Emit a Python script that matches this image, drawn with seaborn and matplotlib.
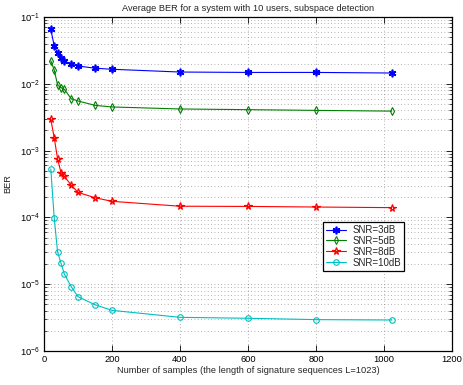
import numpy as np
import pandas as pd
import seaborn as sns
import matplotlib
matplotlib.use("Agg")
import matplotlib.pyplot as plt
from matplotlib.ticker import LogLocator, MultipleLocator, NullFormatter

samples = [20, 30, 40, 50, 60, 80, 100, 150, 200, 400, 600, 800, 1023]
ber_3db = [0.0655, 0.037, 0.029, 0.0246, 0.0219, 0.0198, 0.0185, 0.0171, 0.0165, 0.0150, 0.0148, 0.0148, 0.0145]
ber_5db = [0.0222, 0.0161, 0.0096, 0.00875, 0.00826, 0.00598, 0.00553, 0.00476, 0.0045, 0.0042, 0.0041, 0.0040, 0.0039]
ber_8db = [0.00294, 0.00156, 0.00075, 0.00047, 0.00041, 0.000305, 0.000237, 0.000197, 0.000174, 0.000147, 0.000146, 0.000143, 0.000140]
ber_10db = [0.00053, 0.0000989, 3.03e-5, 2.06e-5, 1.41e-5, 9.2e-6, 6.5e-6, 4.93e-6, 4.06e-6, 3.19e-6, 3.09e-6, 2.95e-6, 2.91e-6]
labels = ["SNR=3dB", "SNR=5dB", "SNR=8dB", "SNR=10dB"]
title = "Average BER for a system with 10 users, subspace detection"
xlabel = "Number of samples (the length of signature sequences L=1023)"
ylabel = "BER"

sns.set_style("white")
plt.rcParams['font.family'] = ['Liberation Sans', 'DejaVu Sans']
plt.rcParams['mathtext.fontset'] = 'custom'
plt.rcParams['mathtext.rm'] = 'Liberation Sans'
plt.rcParams['mathtext.it'] = 'Liberation Sans:italic'

FS = 6.7
fig = plt.figure(figsize=(4.64, 3.85), dpi=100)
ax = fig.add_axes([44/464, 1-351/385, 408/464, 334/385])

series = [ber_3db, ber_5db, ber_8db, ber_10db]
styles = [
    dict(color="#0000ff", marker=(6, 2, 0), markersize=5.5, markeredgewidth=1.2, markerfacecolor="#0000ff"),
    dict(color="#008000", marker="d", markersize=4.2, markerfacecolor="none", markeredgewidth=0.8),
    dict(color="#ff0000", marker="*", markersize=5.5, markerfacecolor="none", markeredgewidth=0.9),
    dict(color="#00bfbf", marker="o", markersize=4.0, markerfacecolor="none", markeredgewidth=0.8),
]
handles = []
for vals, lab, st in zip(series, labels, styles):
    df = pd.DataFrame({"x": samples, "y": vals})
    n0 = len(ax.lines)
    sns.lineplot(data=df, x="x", y="y", ax=ax, color=st["color"], legend=False)
    line = ax.lines[n0]
    line.set_linestyle("-")
    line.set_linewidth(0.8)
    line.set_marker(st["marker"])
    line.set_markersize(st["markersize"])
    line.set_markeredgewidth(st["markeredgewidth"])
    line.set_markeredgecolor(st["color"])
    line.set_markerfacecolor(st["markerfacecolor"])
    line.set_label(lab)
    handles.append(line)

ax.set_yscale("log")
ax.set_xlim(0, 1200)
ax.set_ylim(1e-6, 1e-1)
ax.xaxis.set_major_locator(MultipleLocator(200))
ax.yaxis.set_major_locator(LogLocator(base=10, numticks=10))
ax.yaxis.set_minor_locator(LogLocator(base=10, subs=np.arange(2, 10), numticks=20))
ax.yaxis.set_minor_formatter(NullFormatter())

ax.grid(True, which="major", axis="both", linestyle=(0, (1, 3)), color="#555555", linewidth=0.6, alpha=0.6)
ax.grid(True, which="minor", axis="y", linestyle=(0, (1, 3)), color="#555555", linewidth=0.6, alpha=0.6)

ax.tick_params(axis="both", which="both", direction="in", bottom=True, left=True, top=True, right=True,
               labelsize=FS, pad=3, colors="black")
ax.tick_params(which="major", length=4, width=0.6)
ax.tick_params(which="minor", length=2, width=0.5)
for sp in ax.spines.values():
    sp.set_linewidth(0.9)
    sp.set_color("black")

ax.set_title(title, fontsize=FS, pad=4)
ax.set_xlabel(xlabel, fontsize=FS, labelpad=1)
ax.set_ylabel(ylabel, fontsize=FS, labelpad=6)

leg = ax.legend(handles=handles, labels=labels, loc="upper left",
                bbox_to_anchor=((323-44)/408, (351-222)/334), fontsize=FS+0.3,
                frameon=True, fancybox=False, edgecolor="black", framealpha=1,
                borderpad=0.3, labelspacing=0.1, handlelength=2.1, handletextpad=0.6,
                borderaxespad=0)
leg.get_frame().set_linewidth(0.9)

fig.savefig("out.png", dpi=100)
